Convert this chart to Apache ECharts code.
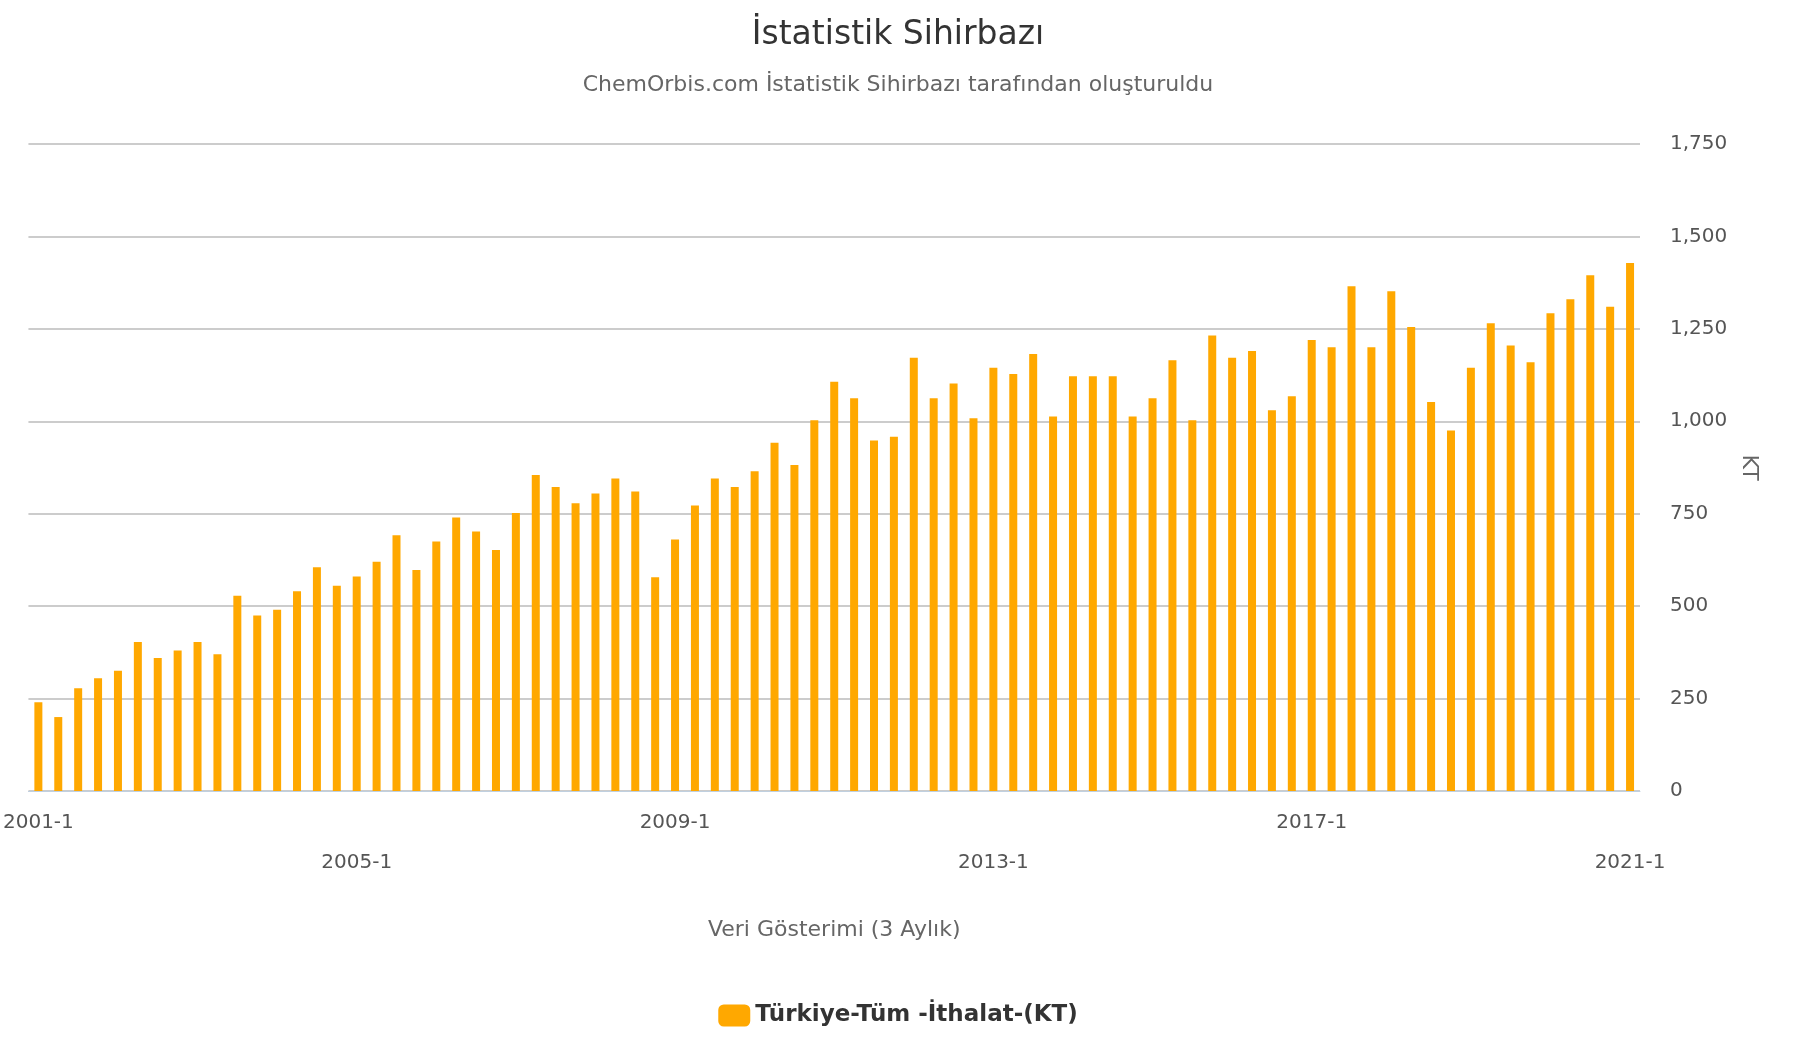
<!DOCTYPE html>
<html><head><meta charset="utf-8">
<script src="https://cdn.jsdelivr.net/npm/echarts@6/dist/echarts.min.js"></script>
<style>html,body{margin:0;padding:0;background:#fff}#c{width:1796px;height:1050px}</style>
</head><body><div id="c"></div>
<script>
const years=[];for(let y=2001;y<=2021;y++)years.push(y);
const categories=[];years.forEach(y=>{for(let q=1;q<=4;q++){if(y===2021&&q>1)break;categories.push(y+'-'+q);}});
const values=[240,200,278,305,325,403,360,380,403,370,528,475,490,540,605,555,580,620,692,598,675,740,702,652,752,855,822,778,805,845,810,578,680,772,845,822,865,942,882,1003,1107,1062,948,958,1172,1062,1102,1008,1145,1128,1182,1013,1122,1122,1122,1013,1062,1165,1003,1232,1172,1190,1030,1068,1220,1200,1365,1200,1352,1255,1052,975,1145,1265,1205,1160,1292,1330,1395,1310,1428];
const seriesName='Türkiye-Tüm -İthalat-(KT)';
const F='DejaVu Sans';
const chart=echarts.init(document.getElementById('c'));
chart.setOption({
 textStyle:{fontFamily:F},
 title:{text:'İstatistik Sihirbazı',subtext:'ChemOrbis.com İstatistik Sihirbazı tarafından oluşturuldu',left:'center',top:14,
  textStyle:{fontFamily:F,fontSize:33,fontWeight:'normal',color:'#333'},
  subtextStyle:{fontFamily:F,fontSize:22,color:'#666'},itemGap:22},
 legend:{bottom:18,left:'center',itemWidth:32,itemHeight:22,textStyle:{fontFamily:F,fontSize:23,fontWeight:'bold',color:'#333'}},
 grid:{left:21,right:156,top:144,bottom:259},
 xAxis:{type:'category',data:categories,boundaryGap:true,
  name:'Veri Gösterimi (3 Aylık)',nameLocation:'middle',nameGap:128,nameTextStyle:{fontFamily:F,fontSize:22,color:'#666'},
  axisLine:{lineStyle:{color:'#c0d0e0'}},
  axisTick:{alignWithLabel:true,interval:1,length:16,lineStyle:{color:'#c0d0e0'}},
  axisLabel:{interval:0,fontSize:20,color:'#555',margin:22,formatter:(v,i)=>i%32===0?v:(i%32===16?'\n\n'+v:'')}},
 yAxis:{type:'value',position:'right',min:0,max:1750,interval:250,
  name:'KT',nameLocation:'middle',nameGap:70,nameRotate:-90,nameTextStyle:{fontFamily:F,fontSize:22,color:'#666'},
  axisLabel:{fontSize:20,color:'#555',margin:30},
  splitLine:{lineStyle:{color:'#bbb',width:1.5}}},
 series:[{name:seriesName,type:'bar',data:values,barWidth:8,itemStyle:{color:'#ffa800'}}]
});
</script></body></html>
